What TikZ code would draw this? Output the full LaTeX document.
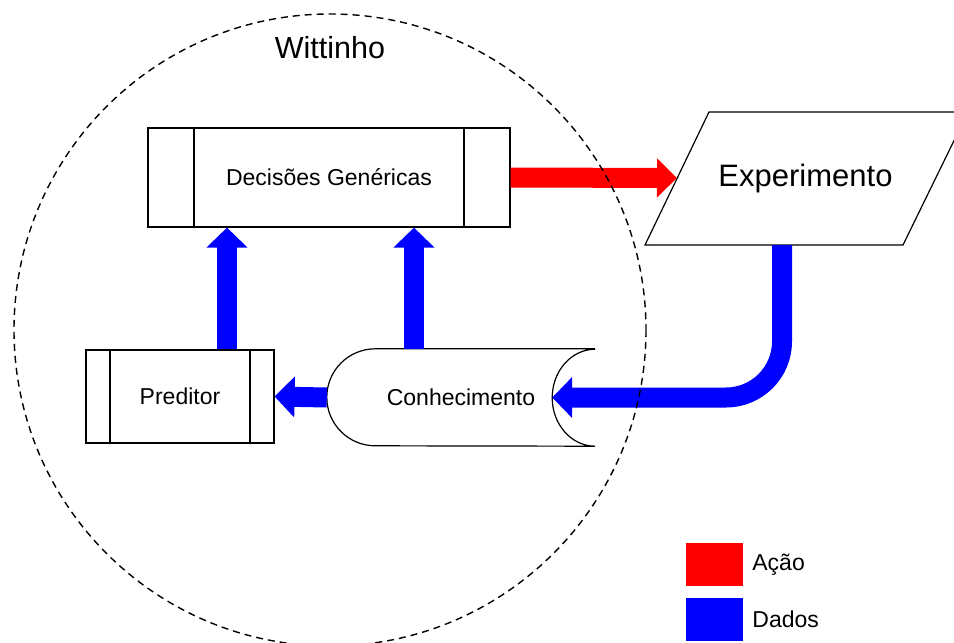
\documentclass[tikz,border=0pt]{standalone}
\usepackage{fontspec}
\setmainfont{Liberation Sans}
\usetikzlibrary{arrows.meta, positioning}
\definecolor{wtred}{HTML}{FF0000}
\definecolor{wtblue}{HTML}{0000FF}

\begin{document}
\begin{tikzpicture}[x=1pt, y=-1pt,
    txt/.style={font=\fontsize{23}{27}\selectfont},
    bigtxt/.style={font=\fontsize{30.5}{36}\selectfont},
    procbox/.style={rectangle, draw, line width=1.2pt, fill=white, txt,
                 path picture={
                   \draw[line width=1.2pt] ([xshift=#1]path picture bounding box.north west) -- ([xshift=#1]path picture bounding box.south west);
                   \draw[line width=1.2pt] ([xshift=-#1]path picture bounding box.north east) -- ([xshift=-#1]path picture bounding box.south east);}},
    acaoarr/.style={-{Triangle[length=20pt, width=38pt]}, line width=20pt, draw=wtred},
    dadosarr/.style={-{Triangle[length=20pt, width=40pt]}, line width=20pt, draw=wtblue},
    legbox/.style={rectangle, minimum width=57pt, minimum height=43pt, inner sep=0pt}
  ]
    \useasboundingbox (0,0) rectangle (954,643);
    \node[bigtxt] (witt) at (330,48) {Wittinho};

    \node[procbox=46pt, minimum width=362pt, minimum height=99pt] (dec) at (329,177.5) {Decisões Genéricas};
    \node[procbox=24pt, minimum width=188pt, minimum height=93pt] (pred) at (180,396.5) {Preditor};

    % base de conhecimento
    \node[txt, minimum width=268pt, minimum height=97pt] (conh) at (461,397.5) {};
    \draw[line width=1.2pt, fill=white] (conh.north east) -- ([xshift=48.5pt]conh.north west)
      arc[start angle=90, end angle=270, radius=48.5pt] -- (conh.south east)
      arc[start angle=270, end angle=90, x radius=43pt, y radius=48.5pt];
    \node[txt] at (conh.center) {Conhecimento};

    % experimento
    \draw[line width=1.2pt, fill=white] (645,245) -- (709,112) -- (968,112) -- (903,245) -- cycle;
    \node[bigtxt, font=\fontsize{31}{36}\selectfont] (exp) at (805.5,178) {Experimento};
    \coordinate (expin) at (677,178);
    \coordinate (expout) at (782,245);
    \coordinate (conhin) at ([xshift=-43pt]conh.east);

    \draw[acaoarr] (dec.east) -- (expin);
    \draw[dadosarr] ([xshift=47pt]pred.north) -- ([xshift=47pt]pred.north |- dec.south);
    \draw[dadosarr] ([xshift=-47pt]conh.north) -- ([xshift=-47pt]conh.north |- dec.south);
    \draw[dadosarr] (conh.west) -- (pred.east);
    \draw[dadosarr, rounded corners=56pt] (expout) |- (conhin);

    % fronteira do sistema
    \draw[line width=1.4pt, dash pattern=on 7pt off 5pt] (330,330) circle[radius=316];

    % legenda
    \node[legbox, fill=wtred] (lgacao) at (714.5,564.5) {};
    \node[legbox, fill=wtblue] (lgdados) at (714.5,619.5) {};
    \node[txt, inner sep=1pt, right=8pt of lgacao] {Ação};
    \node[txt, inner sep=1pt, right=8pt of lgdados] {Dados};
  \end{tikzpicture}
\end{document}
